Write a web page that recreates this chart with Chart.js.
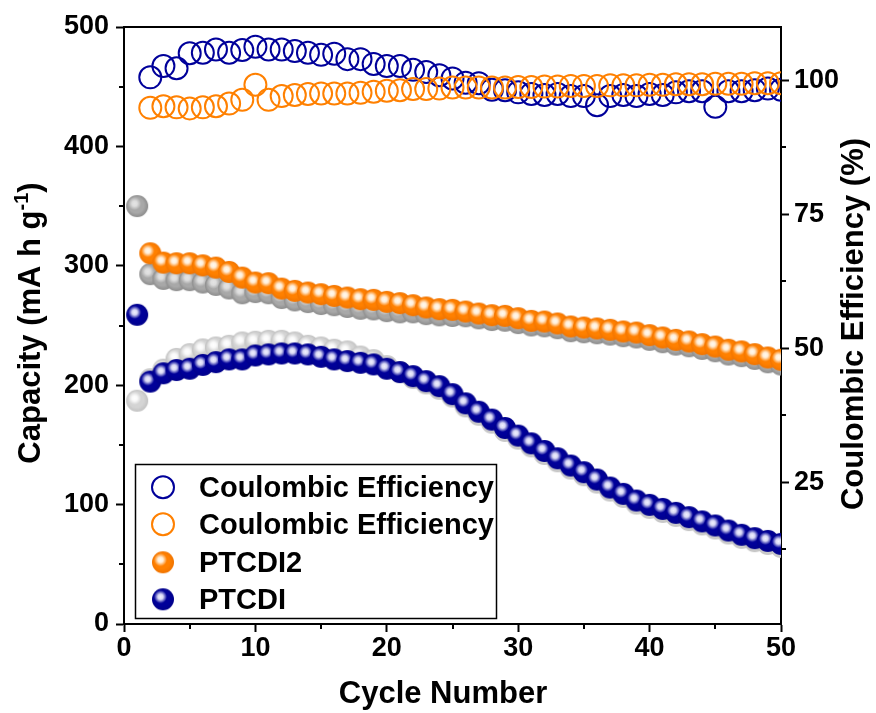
<!DOCTYPE html>
<html><head><meta charset="utf-8">
<script src="https://cdn.jsdelivr.net/npm/chart.js@4.4.1/dist/chart.umd.min.js"></script>
<style>html,body{margin:0;padding:0;background:#fff}#wrap{width:876px;height:713px}</style>
</head><body><div id="wrap"><canvas id="c" width="876" height="713"></canvas></div>
<script>
const cycles = [1,2,3,4,5,6,7,8,9,10,11,12,13,14,15,16,17,18,19,20,21,22,23,24,25,26,27,28,29,30,31,32,33,34,35,36,37,38,39,40,41,42,43,44,45,46,47,48,49,50];

const ptcdi2 = [null,310.5,302.7,302.1,302.1,300.4,298.5,294.9,290.1,286,285.4,280.9,279,277.6,276.2,274.8,273.4,272,271.5,269.8,268.7,267,265.1,263.7,263.1,261.7,260,258.6,258.1,256.1,253.9,253.3,251.7,249.2,248.3,247.5,246.4,245,244.1,241.9,240,238,236.6,234.4,232.4,229.7,228.3,226,223.2,221.3];

const ptcdi = [259,203,210,212.7,213.8,217,219.3,221.6,221.6,224.9,225.8,226.6,226.6,225.8,223.8,221.6,220.2,218.8,217.4,213.8,211,207.6,203.4,199.2,192.5,184.8,177.8,171.2,164.2,157.8,151.3,144.9,138.8,132.7,127.1,121,114.3,109,103.4,99.8,96.4,93.1,89.5,85.9,82.5,78.3,74.7,71.9,69.6,67.1];

const gray2nd = [350,293,289,288,288,286,284,281,277,278,277,273,271,269.6,268,267,265.5,264,263.5,262,261,261,259.5,258.5,258,257.7,256,254.6,254,252,250,249.3,247.7,245.2,244.3,243.5,242.4,241,240,238,236,234,232.6,230.4,228.4,225.7,224.3,222,219.2,217.3];

const gray1st = [187,205,213,222,226,230,231.6,233,235.8,236.4,237.2,237.2,235.8,233,231.6,229.7,228.3,224,221,216,211,206,201.5,197,190.5,182.3,175.3,168.7,161.7,155.3,148.8,142.4,136.3,130.2,124.6,118.5,111.8,106.5,100.9,97.3,93.9,90.6,87,83.4,80,75.8,72.2,69.4,67.1,64.6];

const ceBlue = [null,100.6,102.7,102.3,105.1,105.2,105.8,105.2,105.7,106.3,105.8,105.8,105.5,105.2,104.8,105,104,104,103.1,102.7,102.7,102,101.6,101,100.4,99.6,99.5,98.3,98.2,97.8,97.5,97.3,97.5,97.1,97.1,95.4,97.1,97.3,97.1,97.5,97.3,97.8,98,98,95.1,98,98,98.2,98.5,98.3];

const ceOrange = [null,94.9,95.2,95,94.8,95,95.2,95.7,96.4,99.2,96.4,97.1,97.3,97.5,97.6,97.6,97.6,97.7,97.9,98.1,98.2,98.4,98.4,98.5,98.7,98.7,98.7,98.7,98.7,98.8,98.8,98.9,98.9,99,99,99,99.1,99.1,99.1,99.2,99.2,99.3,99.3,99.3,99.4,99.4,99.4,99.5,99.5,99.5];

const xTicks = [0,10,20,30,40,50];
const yTicks = [0,100,200,300,400,500];
const y1Ticks = [25,50,75,100];

const FONT = "'Liberation Sans', Arial, sans-serif";

function pts(arr){ const o=[]; cycles.forEach((c,i)=>{ if(arr[i]!==null) o.push({x:c,y:arr[i]}); }); return o; }

function sphere(edge, mid, hl, r){
  const s = Math.ceil(2*r+2);
  const c = document.createElement('canvas'); c.width=s; c.height=s;
  const g = c.getContext('2d'); const cx=s/2, cy=s/2;
  const base = g.createRadialGradient(cx-3,cy-3,0,cx,cy,r);
  base.addColorStop(0, mid); base.addColorStop(0.7, mid); base.addColorStop(1, edge);
  g.beginPath(); g.arc(cx,cy,r,0,Math.PI*2); g.fillStyle=base; g.fill();
  const hx=cx-2.5, hy=cy-2.5;
  const h = g.createRadialGradient(hx,hy,0,hx,hy,6.5);
  h.addColorStop(0, hl); h.addColorStop(0.4, hl.replace('1)','0.9)')); h.addColorStop(1, hl.replace('1)','0)'));
  g.beginPath(); g.arc(cx,cy,r,0,Math.PI*2); g.fillStyle=h; g.fill();
  return c;
}
const R = 11;
const sOrange = sphere('#F07400','#FF8000','rgba(255,250,240,1)',R);
const sNavy = sphere('#00008A','#000099','rgba(240,240,255,1)',R);
const sGray = sphere('#8C8C8C','#A8A8A8','rgba(228,228,228,1)',R);
const sLight = sphere('#C2C2C2','#D4D4D4','rgba(255,255,255,1)',R);

const ticksPlugin = {
  id:'extras',
  afterDraw(chart){
    const ctx = chart.ctx, a = chart.chartArea;
    const sx = chart.scales.x, sy = chart.scales.y, sy1 = chart.scales.y1;
    ctx.save();
    ctx.strokeStyle='#000'; ctx.lineWidth=2;
    ctx.beginPath(); ctx.moveTo(a.left-1, a.top); ctx.lineTo(a.right+1, a.top); ctx.stroke();
    ctx.beginPath();
    [5,15,25,35,45].forEach(v=>{ const px=Math.round(sx.getPixelForValue(v)); ctx.moveTo(px,a.bottom); ctx.lineTo(px,a.bottom+5); });
    [50,150,250,350,450].forEach(v=>{ const py=Math.round(sy.getPixelForValue(v)); ctx.moveTo(a.left,py); ctx.lineTo(a.left-5,py); });
    [12.5,37.5,62.5,87.5].forEach(v=>{ const py=Math.round(sy1.getPixelForValue(v)); ctx.moveTo(a.right,py); ctx.lineTo(a.right+5,py); });
    ctx.stroke();
    ctx.fillStyle='#000';
    ctx.font = "bold 31px "+FONT; ctx.textAlign='center'; ctx.textBaseline='alphabetic';
    ctx.fillText('Cycle Number', 443, 703);
    ctx.save(); ctx.translate(863, 324); ctx.rotate(-Math.PI/2);
    ctx.fillText('Coulombic Efficiency (%)', 0, 0); ctx.restore();
    ctx.save(); ctx.translate(40, 323); ctx.rotate(-Math.PI/2);
    ctx.textAlign='left';
    const t1='Capacity (mA h g', t2='-1', t3=')';
    ctx.font = "bold 31px "+FONT; const w1=ctx.measureText(t1).width, w3=ctx.measureText(t3).width;
    ctx.font = "bold 20px "+FONT; const w2=ctx.measureText(t2).width;
    let x0 = -(w1+w2+w3)/2;
    ctx.font = "bold 31px "+FONT; ctx.fillText(t1, x0, 0);
    ctx.font = "bold 20px "+FONT; ctx.fillText(t2, x0+w1, -12);
    ctx.font = "bold 31px "+FONT; ctx.fillText(t3, x0+w1+w2, 0);
    ctx.restore();
    ctx.lineWidth=1.5; ctx.strokeStyle='#000';
    ctx.strokeRect(135.5, 464.5, 361, 154);
    const rows=[487.3,524.3,562.3,599.3], mx=163, tx=199;
    ctx.lineWidth=2;
    ctx.strokeStyle='#00009A'; ctx.beginPath(); ctx.arc(mx,rows[0],R,0,Math.PI*2); ctx.stroke();
    ctx.strokeStyle='#FF8000'; ctx.beginPath(); ctx.arc(mx,rows[1],R,0,Math.PI*2); ctx.stroke();
    ctx.drawImage(sOrange, mx-sOrange.width/2, rows[2]-sOrange.height/2);
    ctx.drawImage(sNavy, mx-sNavy.width/2, rows[3]-sNavy.height/2);
    ctx.fillStyle='#000'; ctx.font="bold 29px "+FONT; ctx.textAlign='left'; ctx.textBaseline='alphabetic';
    const labels=['Coulombic Efficiency','Coulombic Efficiency','PTCDI2','PTCDI'];
    labels.forEach((l,i)=>ctx.fillText(l, tx, rows[i]+10));
    ctx.restore();
  }
};

const tickFont = {family:FONT, size:27, weight:'bold'};
const gridOpt = {drawOnChartArea:false, drawTicks:true, tickLength:8, tickWidth:2, tickColor:'#000'};
const borderOpt = {display:true, color:'#000', width:2};

new Chart(document.getElementById('c'), {
  type:'scatter',
  data:{ datasets:[
    {label:'Coulombic Efficiency', data:pts(ceOrange), yAxisID:'y1', pointStyle:'circle', pointRadius:R, borderColor:'#FF8000', backgroundColor:'rgba(0,0,0,0)', borderWidth:2, showLine:false},
    {label:'Coulombic Efficiency', data:pts(ceBlue), yAxisID:'y1', pointStyle:'circle', pointRadius:R, borderColor:'#00009A', backgroundColor:'rgba(0,0,0,0)', borderWidth:2, showLine:false},
    {label:'PTCDI2', data:pts(ptcdi2), yAxisID:'y', pointStyle:sOrange, pointRadius:R, showLine:false},
    {label:'PTCDI', data:pts(ptcdi), yAxisID:'y', pointStyle:sNavy, pointRadius:R, showLine:false},
    {label:'PTCDI2 charge', data:pts(gray2nd), yAxisID:'y', pointStyle:sGray, pointRadius:R, showLine:false},
    {label:'PTCDI charge', data:pts(gray1st), yAxisID:'y', pointStyle:sLight, pointRadius:R, showLine:false}
  ]},
  options:{
    responsive:false, animation:false, devicePixelRatio:1, events:[],
    layout:{padding:{top:27,left:0,right:0,bottom:0}},
    plugins:{legend:{display:false}, tooltip:{enabled:false}},
    scales:{
      x:{type:'linear', position:'bottom', min:0, max:50,
        afterBuildTicks(s){ s.ticks = xTicks.map(v=>({value:v})); },
        ticks:{font:tickFont, color:'#000', padding:0, maxRotation:0, autoSkip:false},
        grid:gridOpt, border:borderOpt, afterFit(s){ s.height=89; }},
      y:{type:'linear', position:'left', min:0, max:500,
        afterBuildTicks(s){ s.ticks = yTicks.map(v=>({value:v})); },
        ticks:{font:tickFont, color:'#000', padding:7, autoSkip:false},
        grid:gridOpt, border:borderOpt, afterFit(s){ s.width=124; }},
      y1:{type:'linear', position:'right', min:-1.5, max:110,
        afterBuildTicks(s){ s.ticks = y1Ticks.map(v=>({value:v})); },
        ticks:{font:tickFont, color:'#000', padding:5, autoSkip:false},
        grid:gridOpt, border:borderOpt, afterFit(s){ s.width=95; }}
    }
  },
  plugins:[ticksPlugin]
});
</script></body></html>
